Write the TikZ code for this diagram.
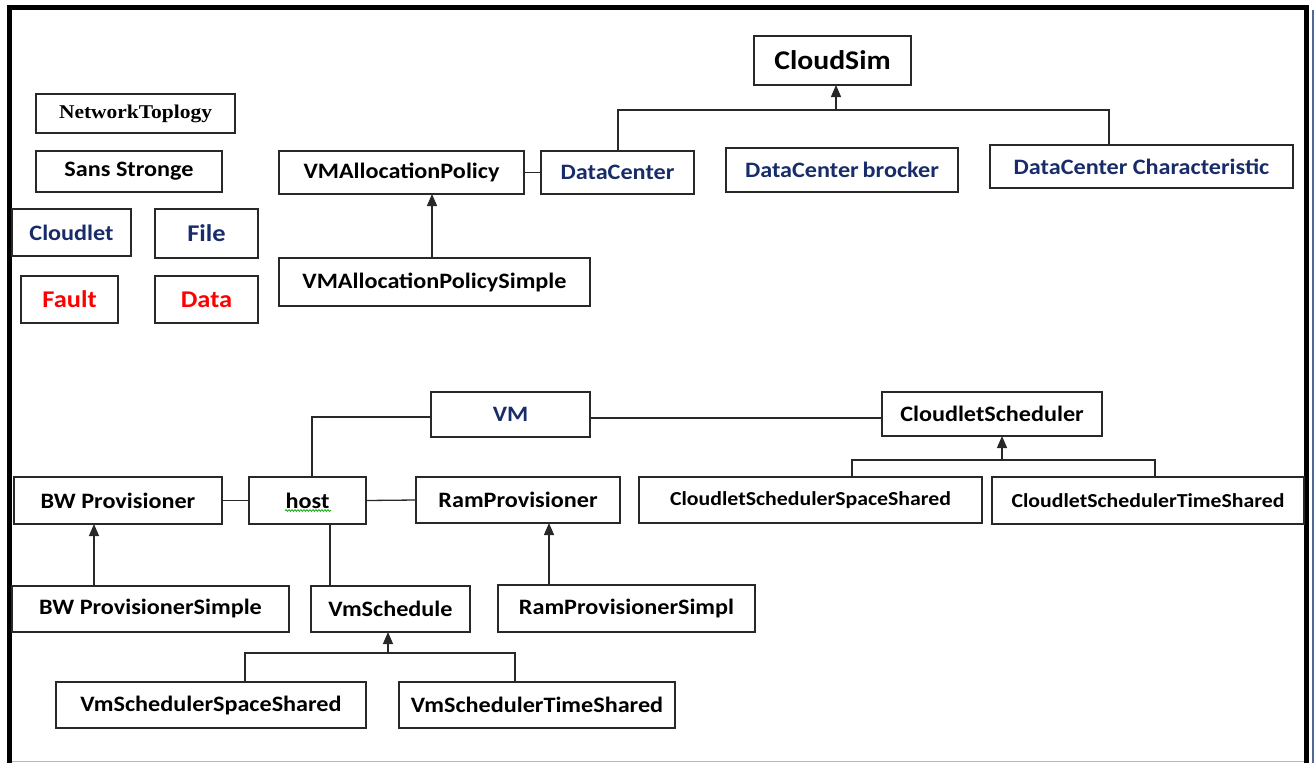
\documentclass[tikz,border=0pt]{standalone}
\usepackage{fontspec}
\usetikzlibrary{arrows.meta,decorations.pathmorphing}
\newfontfamily\labelfont[FakeStretch=1.1]{Carlito}
\newfontfamily\seriflabel[FakeStretch=1.1]{Liberation Serif}
\definecolor{navy}{RGB}{24,44,106}
\definecolor{edge}{RGB}{40,40,40}
\definecolor{rimblue}{RGB}{80,105,150}
\tikzset{
  box/.style={draw=edge, line width=1.3pt, rectangle, inner sep=0pt, outer sep=0pt,
    font=\labelfont\bfseries\fontsize{22}{24}\selectfont},
  smallbox/.style={box, font=\labelfont\bfseries\fontsize{19.8}{22}\selectfont},
  bigbox/.style={box, font=\labelfont\bfseries\fontsize{24}{26}\selectfont},
  titlebox/.style={box, font=\labelfont\bfseries\fontsize{27}{29}\selectfont},
  serifbox/.style={box, font=\seriflabel\bfseries\fontsize{19.5}{22}\selectfont},
  wire/.style={draw=edge, line width=1.3pt},
  inherit/.style={wire, -{Triangle[length=12pt,width=10pt]}},
}
\begin{document}
\begin{tikzpicture}[x=1pt,y=-1pt]
\useasboundingbox (0,0) rectangle (1316,763);

% outer frame
\draw[line width=5pt] (7,7.5) -- (1308.5,7.5);
\draw[line width=5pt] (9.5,5) -- (9.5,763);
\draw[line width=5pt] (1306.5,5) -- (1306.5,763);
\draw[rimblue, line width=2pt] (1312.5,10) -- (1312.5,763);
\draw[gray!55, line width=1.5pt] (12,761.5) -- (1304,761.5);

% stand-alone classes
\node[serifbox, minimum width=199pt, minimum height=39pt] (nettop) at (135.5,113.5) {NetworkToplogy};
\node[box, minimum width=186pt, minimum height=41pt] (sans) at (129,171.5) {Sans Stronge};
\node[box, text=navy, minimum width=119pt, minimum height=47pt] (cloudlet) at (71.5,232.5) {Cloudlet};
\node[bigbox, text=navy, minimum width=103pt, minimum height=49pt] (file) at (206.5,233.5) {File};
\node[bigbox, text=red, minimum width=97pt, minimum height=47pt] (fault) at (69.5,299.5) {Fault};
\node[bigbox, text=red, minimum width=103pt, minimum height=47pt] (data) at (206.5,299.5) {Data};

% upper hierarchy
\node[titlebox, minimum width=157pt, minimum height=49pt] (cloudsim) at (832.5,60.5) {CloudSim};
\node[box, minimum width=245pt, minimum height=43pt] (vmap) at (401.5,172.5) {VMAllocationPolicy};
\node[box, text=navy, minimum width=153pt, minimum height=43pt] (dc) at (617.5,172.5) {DataCenter};
\node[box, text=navy, minimum width=232pt, minimum height=44pt] (dcb) at (842,170) {DataCenter\hspace{-1.5pt} brocker};
\node[box, text=navy, minimum width=303pt, minimum height=43pt] (dcc) at (1141.5,166.5) {DataCenter Characteristic};
\node[box, minimum width=311pt, minimum height=48pt] (vmaps) at (434.5,282) {VMAllocationPolicySimple};

% lower hierarchy
\node[box, text=navy, minimum width=159pt, minimum height=45pt] (vm) at (510.5,414.5) {VM};
\node[box, minimum width=220pt, minimum height=44pt] (cs) at (992,414) {CloudletScheduler};
\node[box, minimum width=208pt, minimum height=47pt] (bw) at (118,500.5) {BW Provisioner};
\node[box, minimum width=117pt, minimum height=47pt] (host) at (307.5,500.5) {host};
\node[box, minimum width=204pt, minimum height=46pt] (ram) at (518,500) {RamProvisioner};
\node[smallbox, minimum width=343pt, minimum height=46pt] (css) at (810.5,500) {CloudletSchedulerSpaceShared};
\node[smallbox, minimum width=312pt, minimum height=47pt] (cts) at (1148,500.5) {CloudletSchedulerTimeShared};
\node[box, minimum width=277pt, minimum height=46pt] (bws) at (150.5,609) {BW ProvisionerSimple};
\node[box, minimum width=159pt, minimum height=46pt] (vms) at (390.5,609) {VmSchedule};
\node[box, minimum width=257pt, minimum height=47pt] (rams) at (626.5,608.5) {RamProvisionerSimpl};
\node[box, minimum width=310pt, minimum height=46pt] (vmss) at (211,705) {VmSchedulerSpaceShared};
\node[box, minimum width=276pt, minimum height=46pt] (vmts) at (537,705) {VmSchedulerTimeShared};

% spell-check squiggle under "host"
\draw[green!65!black, line width=0.7pt, decorate,
  decoration={snake, amplitude=0.9pt, segment length=3pt}] (285,510.5) -- (331,510.5);

% CloudSim generalisation
\coordinate (csL) at (618,110);
\coordinate (csR) at (1109,110);
\coordinate (csA) at (836,110);
\draw[wire] (dc.north -| csL) -- (csL) -- (csR) -- (csR |- dcc.north);
\draw[inherit] (csA) -- (csA |- cloudsim.south);

% VM allocation
\draw[wire] (vmap.east) -- (dc.west);
\coordinate (vaA) at (432,250);
\draw[inherit] (vaA |- vmaps.north) -- (vaA |- vmap.south);

% VM relations
\coordinate (vmH) at (312,417);
\draw[wire] (vm.west |- vmH) -- (vmH) -- (vmH |- host.north);
\draw[wire] (vm.east |- 0,418) -- (cs.west |- 0,418);

% cloudlet scheduler generalisation
\coordinate (cL) at (852,460);
\coordinate (cR) at (1155,460);
\coordinate (cA) at (1002,460);
\draw[wire] (cL |- css.north) -- (cL) -- (cR) -- (cR |- cts.north);
\draw[inherit] (cA) -- (cA |- cs.south);

% host relations
\draw[wire] (bw.east) -- (host.west);
\draw[wire] (host.east) -- (ram.west);
\coordinate (hV) at (330,560);
\draw[wire] (hV |- host.south) -- (hV |- vms.north);

% provisioners
\coordinate (bwA) at (94,560);
\draw[inherit] (bwA |- bws.north) -- (bwA |- bw.south);
\coordinate (ramA) at (549,560);
\draw[inherit] (ramA |- rams.north) -- (ramA |- ram.south);

% VM scheduler generalisation
\coordinate (vL) at (245,653);
\coordinate (vR) at (515,653);
\coordinate (vA) at (388,653);
\draw[wire] (vL |- vmss.north) -- (vL) -- (vR) -- (vR |- vmts.north);
\draw[inherit] (vA) -- (vA |- vms.south);
\end{tikzpicture}
\end{document}
